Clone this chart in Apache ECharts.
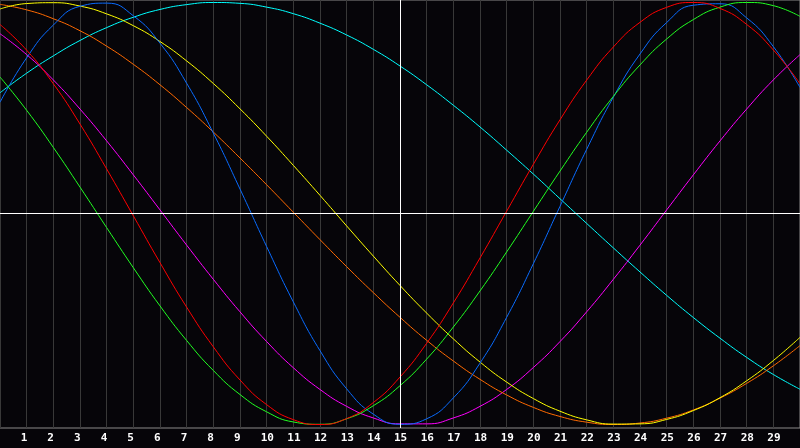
<!DOCTYPE html>
<html>
<head>
<meta charset="utf-8">
<title>waves</title>
<script src="https://cdn.jsdelivr.net/npm/echarts@6/dist/echarts.min.js"></script>
<style>
html, body { margin: 0; padding: 0; background: #060509; }
#chart { width: 800px; height: 448px; }
</style>
</head>
<body>
<div id="chart"></div>
<script>
// x positions of the samples (0..30)
var xs = [0, 1, 2, 3, 4, 5, 6, 7, 8, 9, 10, 11, 12, 13, 14, 15, 16, 17, 18, 19, 20, 21, 22, 23, 24, 25, 26, 27, 28, 29, 30];
// tick labels along the bottom
var tickLabels = [1, 2, 3, 4, 5, 6, 7, 8, 9, 10, 11, 12, 13, 14, 15, 16, 17, 18, 19, 20, 21, 22, 23, 24, 25, 26, 27, 28, 29];

// values, one per x
var red = [0.896, 0.774, 0.615, 0.424, 0.211, -0.011, -0.233, -0.444, -0.632, -0.789, -0.906, -0.977, -1.000, -0.972, -0.896, -0.775, -0.615, -0.424, -0.211, 0.011, 0.233, 0.444, 0.632, 0.789, 0.906, 0.977, 1.000, 0.972, 0.896, 0.775, 0.615];
var green = [0.647, 0.489, 0.313, 0.125, -0.067, -0.257, -0.438, -0.602, -0.744, -0.858, -0.940, -0.988, -0.999, -0.973, -0.911, -0.816, -0.690, -0.538, -0.367, -0.182, 0.010, 0.201, 0.385, 0.555, 0.704, 0.827, 0.919, 0.978, 1.000, 0.985, 0.934];
var blue = [0.527, 0.738, 0.893, 0.982, 0.997, 0.937, 0.807, 0.617, 0.381, 0.116, -0.157, -0.419, -0.650, -0.831, -0.951, -0.999, -0.973, -0.874, -0.709, -0.492, -0.238, 0.034, 0.304, 0.551, 0.756, 0.905, 0.987, 0.994, 0.927, 0.791, 0.597];
var yellow = [0.969, 0.995, 0.999, 0.983, 0.946, 0.890, 0.815, 0.723, 0.616, 0.496, 0.366, 0.228, 0.086, -0.059, -0.202, -0.341, -0.472, -0.594, -0.704, -0.799, -0.877, -0.937, -0.978, -0.998, -0.997, -0.976, -0.934, -0.873, -0.793, -0.697, -0.587];
var orange = [0.991, 0.965, 0.923, 0.866, 0.793, 0.707, 0.610, 0.502, 0.386, 0.263, 0.136, 0.006, -0.124, -0.252, -0.375, -0.492, -0.601, -0.699, -0.786, -0.860, -0.919, -0.962, -0.989, -1.000, -0.993, -0.970, -0.931, -0.875, -0.805, -0.722, -0.626];
var magenta = [0.852, 0.753, 0.633, 0.495, 0.344, 0.183, 0.017, -0.150, -0.312, -0.466, -0.607, -0.731, -0.834, -0.914, -0.969, -0.997, -0.997, -0.969, -0.914, -0.834, -0.730, -0.607, -0.466, -0.312, -0.150, 0.017, 0.183, 0.344, 0.495, 0.633, 0.753];
var cyan = [0.572, 0.665, 0.747, 0.820, 0.881, 0.930, 0.967, 0.990, 1.000, 0.996, 0.978, 0.947, 0.902, 0.846, 0.778, 0.699, 0.610, 0.513, 0.410, 0.300, 0.187, 0.070, -0.047, -0.163, -0.277, -0.388, -0.493, -0.591, -0.682, -0.763, -0.833];

(function () {
	var chart = echarts.init(document.getElementById('chart'));

	function pairs(vals) {
		var out = [];
		for (var i = 0; i < vals.length; i++) {
			out.push([xs[i], vals[i]]);
		}
		return out;
	}

	function wave(name, color, vals) {
		return {
			name: name,
			type: 'line',
			data: pairs(vals),
			smooth: true,
			symbol: 'none',
			silent: true,
			lineStyle: { color: color, width: 1 }
		};
	}

	var series = [
		wave('cyan', '#00ffff', cyan),
		wave('magenta', '#ff00ff', magenta),
		wave('orange', '#ff6a00', orange),
		wave('yellow', '#ffff00', yellow),
		wave('blue', '#0a6cff', blue),
		wave('green', '#22ff22', green),
		wave('red', '#ff0000', red)
	];
	// crosshair at x = 15, y = 0
	series[0].markLine = {
		silent: true,
		symbol: 'none',
		label: { show: false },
		lineStyle: { color: '#ffffff', width: 1, type: 'solid' },
		data: [{ xAxis: 15 }, { yAxis: 0 }]
	};

	var option = {
		backgroundColor: '#060509',
		animation: false,
		grid: {
			left: 0,
			right: 0,
			top: 0,
			bottom: 20,
			show: true,
			borderColor: '#8a8a8a',
			borderWidth: 1,
			backgroundColor: 'transparent'
		},
		xAxis: [{
			type: 'value',
			min: 0,
			max: 30,
			interval: 1,
			axisLine: { show: false },
			axisTick: { show: false },
			axisLabel: { show: false },
			splitLine: { show: true, lineStyle: { color: '#383838', width: 1 } }
		}, {
			// labels only, sit a little left of each grid line
			type: 'value',
			position: 'bottom',
			min: 0.225,
			max: 30.225,
			axisLine: { show: false },
			axisTick: { show: false },
			splitLine: { show: false },
			axisLabel: {
				show: true,
				customValues: tickLabels,
				align: 'left',
				margin: 5,
				color: '#ffffff',
				fontFamily: 'DejaVu Sans Mono',
				fontWeight: 'bold',
				fontSize: 11
			}
		}],
		yAxis: {
			type: 'value',
			min: -1.0166,
			max: 1.0118,
			axisLine: { show: false },
			axisTick: { show: false },
			axisLabel: { show: false },
			splitLine: { show: false }
		},
		series: series
	};

	chart.setOption(option);
})();
</script>
</body>
</html>
